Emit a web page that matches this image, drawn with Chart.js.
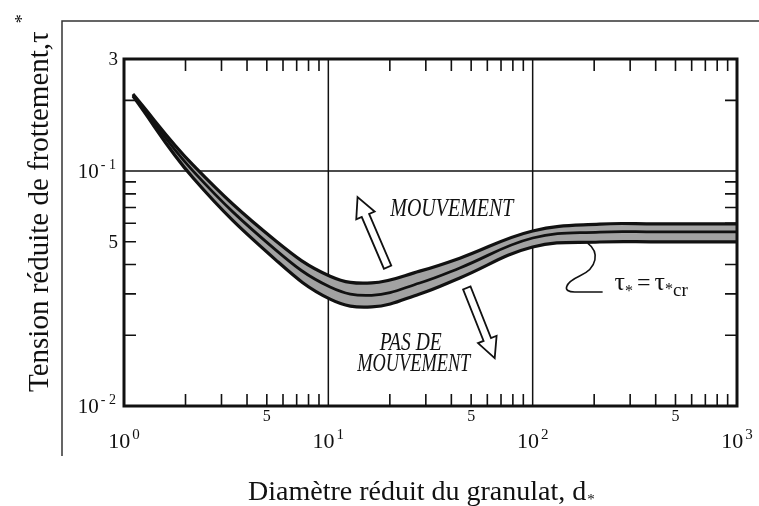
<!DOCTYPE html>
<html>
<head>
<meta charset="utf-8">
<script src="https://cdn.jsdelivr.net/npm/chart.js@4.4.0/dist/chart.umd.min.js"></script>
<style>
  html,body{margin:0;padding:0;background:#fff;}
  #wrap{width:759px;height:506px;}
</style>
</head>
<body>
<div id="wrap"><canvas id="myChart" width="759" height="506"></canvas></div>
<script>
// diamètre réduit d* et les trois courbes de la bande de Shields
var diam   =[1.106,2.18,5.54,10.2,16.3,28,44,100,213,400,1000];
var tauHaut=[0.2127,0.1060,0.0504,0.0357,0.0334,0.0375,0.0426,0.0556,0.0595,0.0596,0.0596];
var tauMoy =[0.2106,0.1000,0.0461,0.0321,0.0296,0.0334,0.0387,0.0519,0.0550,0.0551,0.0551];
var tauBas =[0.2085,0.0934,0.0418,0.0285,0.0264,0.0300,0.0351,0.0475,0.0499,0.0500,0.0500];

var xDecades=[1,10,100];          // debut de chaque decade en x
var xGrid=[10,100];
var yGrid=[0.1];
var yMinor=[0.02,0.03,0.04,0.05,0.06,0.07,0.08,0.09,0.2];
var xLabels=[{v:1,b:'10',s:'0'},{v:10,b:'10',s:'1'},{v:100,b:'10',s:'2'},{v:1000,b:'10',s:'3'}];
var xFives=[5,50,500];
var yLabels=[{v:0.3,b:'3',s:''},{v:0.1,b:'10',s:'- 1'},{v:0.05,b:'5',s:''},{v:0.01,b:'10',s:'- 2'}];

// annotations (en coordonnees des donnees)
var flecheHaut={from:[19.5,0.039],to:[13.9,0.0775]};
var flecheBas={from:[47.6,0.0318],to:[65.2,0.016]};
var texteMouv=[40.2,0.0697];
var textePas=[{t:'PAS DE',d:25.3,tau:0.0173,w:62},{t:'MOUVEMENT',d:26.2,tau:0.0141,w:113}];
var ancreTau=[185.8,0.0494];
var texteTau=[251.8,0.0312];

function pts(ys){
  return diam.map(function(d,i){return {x:d,y:ys[i]};});
}

var SERIF='"Liberation Serif","Times New Roman",serif';

function fitText(ctx,txt,cx,base,w,font){
  ctx.save();
  ctx.font=font;
  var m=ctx.measureText(txt).width;
  ctx.translate(cx,base);
  ctx.scale(w/m,1);
  ctx.textAlign='center';
  ctx.fillText(txt,0,0);
  ctx.restore();
}

function supLabel(ctx,b,s,x,base,align,fb,fs,rise){
  ctx.font=fb;
  var wb=ctx.measureText(b).width;
  ctx.font=fs;
  var ws=s?ctx.measureText(s).width+2:0;
  var tot=wb+ws;
  var x0=align==='right'?x-tot:(align==='center'?x-tot/2:x);
  ctx.textAlign='left';
  ctx.font=fb;
  ctx.fillText(b,x0,base);
  if(s){ctx.font=fs;ctx.fillText(s,x0+wb+2,base-rise);}
}

function arrow(ctx,a,b){
  var dx=b.x-a.x, dy=b.y-a.y, L=Math.sqrt(dx*dx+dy*dy);
  var ux=dx/L, uy=dy/L, nx=-uy, ny=ux;
  var sw=4, hw=10, hl=20;
  var jx=b.x-ux*hl, jy=b.y-uy*hl;
  ctx.beginPath();
  ctx.moveTo(a.x+nx*sw,a.y+ny*sw);
  ctx.lineTo(jx+nx*sw,jy+ny*sw);
  ctx.lineTo(jx+nx*hw,jy+ny*hw);
  ctx.lineTo(b.x,b.y);
  ctx.lineTo(jx-nx*hw,jy-ny*hw);
  ctx.lineTo(jx-nx*sw,jy-ny*sw);
  ctx.lineTo(a.x-nx*sw,a.y-ny*sw);
  ctx.closePath();
  ctx.fillStyle='#fff';
  ctx.fill();
  ctx.lineWidth=1.8;
  ctx.strokeStyle='#111';
  ctx.stroke();
}

var decor={
  id:'decor',
  beforeDraw:function(chart){
    var ctx=chart.ctx, a=chart.chartArea, sx=chart.scales.x, sy=chart.scales.y;
    ctx.save();
    ctx.fillStyle='#fff';
    ctx.fillRect(0,0,chart.width,chart.height);
    ctx.strokeStyle='#111';
    ctx.lineWidth=1.5;
    xGrid.forEach(function(v){
      var x=sx.getPixelForValue(v);
      ctx.beginPath();ctx.moveTo(x,a.top);ctx.lineTo(x,a.bottom);ctx.stroke();
    });
    yGrid.forEach(function(v){
      var y=sy.getPixelForValue(v);
      ctx.beginPath();ctx.moveTo(a.left,y);ctx.lineTo(a.right,y);ctx.stroke();
    });
    ctx.restore();
  },
  afterDraw:function(chart){
    var ctx=chart.ctx, a=chart.chartArea, sx=chart.scales.x, sy=chart.scales.y;
    function P(p){return {x:sx.getPixelForValue(p[0]),y:sy.getPixelForValue(p[1])};}
    ctx.save();
    // cadre exterieur du document
    ctx.strokeStyle='#333';
    ctx.lineWidth=1.5;
    ctx.beginPath();ctx.moveTo(62,456);ctx.lineTo(62,21);ctx.lineTo(759,21);ctx.stroke();

    // petites graduations
    ctx.strokeStyle='#111';
    ctx.lineWidth=1.6;
    var tl=12;
    xDecades.forEach(function(d){
      for(var m=2;m<=9;m++){
        var x=sx.getPixelForValue(d*m);
        ctx.beginPath();
        ctx.moveTo(x,a.bottom);ctx.lineTo(x,a.bottom-tl);
        ctx.moveTo(x,a.top);ctx.lineTo(x,a.top+tl);
        ctx.stroke();
      }
    });
    yMinor.forEach(function(v){
      var y=sy.getPixelForValue(v);
      ctx.beginPath();
      ctx.moveTo(a.left,y);ctx.lineTo(a.left+tl,y);
      ctx.moveTo(a.right,y);ctx.lineTo(a.right-tl,y);
      ctx.stroke();
    });
    // cadre du graphe
    ctx.lineWidth=3;
    ctx.strokeRect(a.left,a.top,a.right-a.left,a.bottom-a.top);

    // etiquettes
    ctx.fillStyle='#111';
    ctx.textBaseline='alphabetic';
    xLabels.forEach(function(l){
      supLabel(ctx,l.b,l.s,sx.getPixelForValue(l.v),448,'center','22px '+SERIF,'15px '+SERIF,9);
    });
    xFives.forEach(function(v){
      ctx.font='16px '+SERIF;ctx.textAlign='center';
      ctx.fillText('5',sx.getPixelForValue(v),421);
    });
    yLabels.forEach(function(l){
      var y=sy.getPixelForValue(l.v);
      if(l.s) supLabel(ctx,l.b,l.s,116,y+7,'right','21px '+SERIF,'14px '+SERIF,9);
      else supLabel(ctx,l.b,'',118,y+6,'right','19px '+SERIF,'',0);
    });

    // titres
    ctx.font='28px '+SERIF;
    ctx.textAlign='left';
    var tx='Diamètre réduit du granulat, d';
    ctx.fillText(tx,248,500);
    var w=ctx.measureText(tx).width;
    ctx.font='15px '+SERIF;
    ctx.fillText('*',248+w+1,504);

    ctx.save();
    ctx.translate(48,392);
    ctx.rotate(-Math.PI/2);
    ctx.font='29px '+SERIF;
    var ty='Tension réduite de frottement,τ';
    ctx.fillText(ty,0,0);
    var wy=ctx.measureText(ty).width;
    ctx.font='18px '+SERIF;
    ctx.fillText('*',wy+8,-20);
    ctx.restore();

    // fleches creuses
    arrow(ctx,P(flecheHaut.from),P(flecheHaut.to));
    arrow(ctx,P(flecheBas.from),P(flecheBas.to));

    // textes MOUVEMENT / PAS DE MOUVEMENT
    ctx.fillStyle='#111';
    var pm=P(texteMouv);
    fitText(ctx,'MOUVEMENT',pm.x,pm.y+8,123,'italic 25px '+SERIF);
    textePas.forEach(function(t){
      var p=P([t.d,t.tau]);
      fitText(ctx,t.t,p.x,p.y,t.w,'italic 25px '+SERIF);
    });

    // trait de rappel vers la bande
    var an=P(ancreTau);
    ctx.strokeStyle='#111';
    ctx.lineWidth=1.6;
    ctx.beginPath();
    ctx.moveTo(an.x,an.y);
    ctx.bezierCurveTo(an.x+12,an.y+9,an.x+10,an.y+25,an.x-8,an.y+33);
    ctx.bezierCurveTo(an.x-23,an.y+40,an.x-26,an.y+49,an.x-13,an.y+49);
    ctx.lineTo(an.x+15,an.y+49);
    ctx.stroke();

    // tau* = tau*cr
    var pt=P(texteTau);
    var x=pt.x, b=pt.y;
    ctx.textAlign='left';
    ctx.font='26px '+SERIF; ctx.fillText('τ',x,b); x+=ctx.measureText('τ').width;
    ctx.font='16px '+SERIF; ctx.fillText('*',x,b+6); x+=ctx.measureText('*').width+4;
    ctx.font='24px '+SERIF; ctx.fillText('=',x,b); x+=ctx.measureText('=').width+4;
    ctx.font='26px '+SERIF; ctx.fillText('τ',x,b); x+=ctx.measureText('τ').width;
    ctx.font='16px '+SERIF; ctx.fillText('*',x,b+4); x+=ctx.measureText('*').width;
    ctx.font='19px '+SERIF; ctx.fillText('cr',x,b+6);
    ctx.restore();
  }
};

var ctx=document.getElementById('myChart');
var ligne={borderColor:'#111',borderWidth:3.2,pointRadius:0,tension:0.4,fill:false};
var myChart=new Chart(ctx,{
  type:'line',
  data:{
    datasets:[
      Object.assign({},ligne,{label:'haut',data:pts(tauHaut),fill:'+2',backgroundColor:'#a2a2a2'}),
      Object.assign({},ligne,{label:'moyen',data:pts(tauMoy),borderWidth:2.8}),
      Object.assign({},ligne,{label:'bas',data:pts(tauBas)})
    ]
  },
  options:{
    responsive:false,
    animation:false,
    devicePixelRatio:1,
    layout:{padding:{left:124,right:22,top:59,bottom:100}},
    scales:{
      x:{type:'logarithmic',min:1,max:1000,display:false},
      y:{type:'logarithmic',min:0.01,max:0.3,display:false}
    },
    plugins:{
      legend:{display:false},
      tooltip:{enabled:false},
      filler:{drawTime:'beforeDatasetsDraw'}
    }
  },
  plugins:[decor]
});
</script>
</body>
</html>
